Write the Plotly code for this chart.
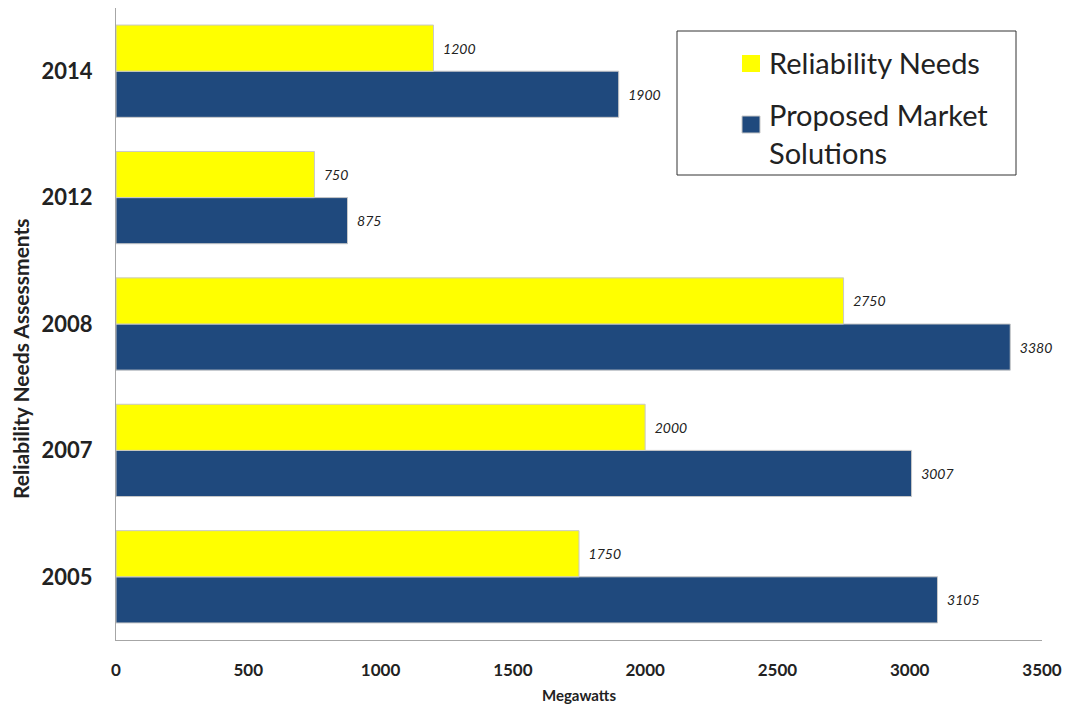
import plotly.graph_objects as go

years = ["2005", "2007", "2008", "2012", "2014"]
reliability_needs = [1750, 2000, 2750, 750, 1200]
market_solutions = [3105, 3007, 3380, 875, 1900]
x_ticks = [0, 500, 1000, 1500, 2000, 2500, 3000, 3500]

YELLOW = "#FFFF00"
BLUE = "#1F497D"
FONT = "Lato"
TXT = "#222222"

fig = go.Figure()
fig.add_trace(go.Bar(
    y=years, x=market_solutions, orientation="h", name="Proposed Market Solutions",
    marker=dict(color=BLUE, line=dict(color="#C8C8C8", width=1)),
    text=["\u00a0\u00a0" + str(v) for v in market_solutions], textposition="outside",
    textfont=dict(family=FONT, size=14, color=TXT, style="italic"),
    cliponaxis=False, showlegend=False,
))
fig.add_trace(go.Bar(
    y=years, x=reliability_needs, orientation="h", name="Reliability Needs",
    marker=dict(color=YELLOW, line=dict(color="#C8C8C8", width=1)),
    text=["\u00a0\u00a0" + str(v) for v in reliability_needs], textposition="outside",
    textfont=dict(family=FONT, size=14, color=TXT, style="italic"),
    cliponaxis=False, showlegend=False,
))

fig.update_layout(
    width=1079, height=706,
    margin=dict(l=116, r=37, t=8, b=66),
    paper_bgcolor="white", plot_bgcolor="white",
    barmode="group", bargap=0.27, bargroupgap=0,
    font=dict(family=FONT, color=TXT),
    xaxis=dict(
        range=[0, 3500], tickvals=x_ticks, ticktext=[str(t) for t in x_ticks],
        showgrid=False, zeroline=False, showline=True, linecolor="#A6A6A6", linewidth=1,
        ticks="", tickfont=dict(family=FONT, size=17, color=TXT, weight="bold"),
        ticklabelstandoff=15,
    ),
    yaxis=dict(
        type="category", categoryorder="array", categoryarray=years,
        range=[-0.5, 4.5],
        showgrid=False, zeroline=False, showline=True, linecolor="#A6A6A6", linewidth=1,
        ticks="", tickfont=dict(family=FONT, size=22, color=TXT, weight="bold"),
        ticklabelstandoff=18,
    ),
    showlegend=False,
)

# axis titles
fig.add_annotation(text="<b>Megawatts</b>", xref="paper", yref="paper", x=0.5, y=0,
                   xanchor="center", yanchor="middle", yshift=-55, showarrow=False,
                   font=dict(family=FONT, size=15, color=TXT))
fig.add_annotation(text="<b>Reliability Needs Assessments</b>", xref="paper", yref="paper",
                   x=0, y=0.5, xanchor="center", yanchor="middle", xshift=-96, yshift=-35,
                   textangle=-90, showarrow=False,
                   font=dict(family=FONT, size=21, color=TXT))

# legend box (manual)
def px_x(p):
    return (p - 116) / (1042 - 116)

def px_y(p):
    return (640 - p) / (640 - 8)

fig.add_shape(type="rect", xref="paper", yref="paper", x0=px_x(677), x1=px_x(1016),
              y0=px_y(175), y1=px_y(31), line=dict(color="#333333", width=1), fillcolor="white")
fig.add_shape(type="rect", xref="paper", yref="paper", x0=px_x(742), x1=px_x(760),
              y0=px_y(72), y1=px_y(55), line=dict(width=0), fillcolor=YELLOW)
fig.add_shape(type="rect", xref="paper", yref="paper", x0=px_x(742), x1=px_x(760),
              y0=px_y(133), y1=px_y(116), line=dict(color="#C8C8C8", width=1), fillcolor=BLUE)
fig.add_annotation(text="Reliability Needs", xref="paper", yref="paper", x=px_x(767), y=px_y(62),
                   xanchor="left", yanchor="middle", showarrow=False,
                   font=dict(family=FONT, size=29, color=TXT))
fig.add_annotation(text="Proposed Market<br>Solutions", xref="paper", yref="paper", x=px_x(767),
                   y=px_y(134), xanchor="left", yanchor="middle", align="left", showarrow=False,
                   font=dict(family=FONT, size=29, color=TXT))

fig.write_html("out.html")
